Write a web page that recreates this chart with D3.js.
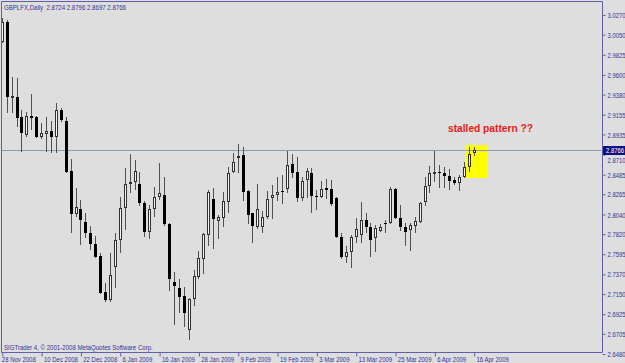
<!DOCTYPE html>
<html><head><meta charset="utf-8">
<script src="https://cdn.jsdelivr.net/npm/d3@7"></script>
<style>body{margin:0;background:#dedede}svg{display:block}</style>
</head><body><svg id="c" width="625" height="363"></svg>
<script>
const dates = ["2008-11-28","2008-12-01","2008-12-02","2008-12-03","2008-12-04","2008-12-05","2008-12-08","2008-12-09","2008-12-10","2008-12-11","2008-12-12","2008-12-15","2008-12-16","2008-12-17","2008-12-18","2008-12-19","2008-12-22","2008-12-23","2008-12-24","2008-12-29","2008-12-30","2008-12-31","2009-01-02","2009-01-05","2009-01-06","2009-01-07","2009-01-08","2009-01-09","2009-01-12","2009-01-13","2009-01-14","2009-01-15","2009-01-16","2009-01-19","2009-01-20","2009-01-21","2009-01-22","2009-01-23","2009-01-26","2009-01-27","2009-01-28","2009-01-29","2009-01-30","2009-02-02","2009-02-03","2009-02-04","2009-02-05","2009-02-06","2009-02-09","2009-02-10","2009-02-11","2009-02-12","2009-02-13","2009-02-16","2009-02-17","2009-02-18","2009-02-19","2009-02-20","2009-02-23","2009-02-24","2009-02-25","2009-02-26","2009-02-27","2009-03-02","2009-03-03","2009-03-04","2009-03-05","2009-03-06","2009-03-09","2009-03-10","2009-03-11","2009-03-12","2009-03-13","2009-03-16","2009-03-17","2009-03-18","2009-03-19","2009-03-20","2009-03-23","2009-03-24","2009-03-25","2009-03-26","2009-03-27","2009-03-30","2009-03-31","2009-04-01","2009-04-02","2009-04-03","2009-04-06","2009-04-07","2009-04-08","2009-04-09","2009-04-10","2009-04-13","2009-04-14","2009-04-15","2009-04-16"];
const open  = [2.9972,3.0195,2.9342,2.9357,2.9133,2.8929,2.9141,2.9127,2.8903,2.8940,2.8977,2.8903,2.9208,2.9089,2.8530,2.8046,2.8101,2.7959,2.7830,2.7710,2.7576,2.7170,2.7084,2.7450,2.7755,2.8109,2.8381,2.8403,2.8381,2.8172,2.7848,2.8098,2.8232,2.8255,2.7934,2.7282,2.7215,2.7132,2.6749,2.7092,2.7345,2.7539,2.7811,2.8213,2.7971,2.8000,2.8180,2.8512,2.8668,2.8705,2.8303,2.8053,2.7897,2.7897,2.8015,2.8221,2.8255,2.8303,2.8322,2.8601,2.8518,2.8221,2.8426,2.8501,2.8247,2.8239,2.8333,2.8322,2.8221,2.7792,2.7561,2.7624,2.7792,2.7811,2.7978,2.7904,2.7774,2.7859,2.7948,2.7941,2.8322,2.8000,2.7897,2.7867,2.7911,2.7959,2.8183,2.8359,2.8515,2.8518,2.8507,2.8470,2.8426,2.8395,2.8463,2.8568,2.8724];
const high  = [3.0233,3.0214,2.9581,2.9566,2.9208,2.9189,2.9384,2.9141,2.9066,2.9133,2.9085,2.9283,2.9227,2.9133,2.8657,2.8333,2.8202,2.8060,2.7911,2.7800,2.7613,2.7277,2.7613,2.7830,2.8232,2.8556,2.8716,2.8649,2.8518,2.8190,2.8146,2.8351,2.8619,2.8463,2.7945,2.7400,2.7315,2.7233,2.7103,2.7419,2.7632,2.7830,2.8314,2.8333,2.8034,2.8295,2.8574,2.8731,2.8828,2.8798,2.8314,2.8060,2.8381,2.8082,2.8306,2.8370,2.8463,2.8482,2.8753,2.8716,2.8686,2.8456,2.8556,2.8556,2.8314,2.8414,2.8433,2.8426,2.8240,2.7830,2.7688,2.7811,2.7997,2.8183,2.8053,2.7948,2.7923,2.7934,2.7975,2.8351,2.8333,2.8146,2.7941,2.7948,2.8009,2.8183,2.8463,2.8582,2.8755,2.8593,2.8568,2.8545,2.8463,2.8482,2.8630,2.8798,2.8796];
const low   = [2.9957,2.9175,2.9175,2.9022,2.8742,2.8903,2.8985,2.8892,2.8881,2.8742,2.8724,2.8724,2.9077,2.8501,2.7830,2.8015,2.7699,2.7774,2.7643,2.7550,2.7151,2.7065,2.7065,2.7215,2.7606,2.7867,2.8284,2.8314,2.8135,2.7792,2.7763,2.8015,2.8202,2.7911,2.7188,2.6805,2.6935,2.6786,2.6637,2.7017,2.7315,2.7375,2.7688,2.7654,2.7763,2.7897,2.8053,2.8501,2.8501,2.8194,2.7934,2.7718,2.7874,2.7830,2.7986,2.7986,2.8194,2.8157,2.8284,2.8445,2.8183,2.8191,2.8221,2.8060,2.8090,2.8221,2.8210,2.8135,2.7775,2.7539,2.7494,2.7438,2.7725,2.7718,2.7830,2.7568,2.7624,2.7848,2.7837,2.7934,2.7990,2.7859,2.7688,2.7635,2.7830,2.7948,2.8135,2.8284,2.8403,2.8333,2.8333,2.8314,2.8370,2.8303,2.8445,2.8518,2.8697];
const close = [3.0195,2.9357,2.9365,2.9115,2.8948,2.9141,2.9115,2.8910,2.8948,2.8977,2.8903,2.9208,2.9096,2.8518,2.8046,2.8120,2.7978,2.7830,2.7710,2.7568,2.7166,2.7084,2.7364,2.7755,2.8109,2.8378,2.8407,2.8530,2.8172,2.7848,2.8098,2.8239,2.8284,2.7934,2.7315,2.7244,2.7121,2.6942,2.7092,2.7352,2.7550,2.7822,2.8295,2.7986,2.8009,2.8191,2.8501,2.8624,2.8694,2.8295,2.8034,2.7911,2.8098,2.8009,2.8216,2.8255,2.8291,2.8288,2.8590,2.8507,2.8221,2.8414,2.8526,2.8247,2.8232,2.8322,2.8314,2.8157,2.7785,2.7561,2.7624,2.7792,2.7874,2.7978,2.7904,2.7755,2.7886,2.7904,2.7930,2.8322,2.8000,2.7897,2.7841,2.7923,2.7971,2.8165,2.8359,2.8507,2.8520,2.8501,2.8474,2.8418,2.8389,2.8463,2.8568,2.8713,2.8766];
const priceTicks = [3.0270,3.0050,2.9825,2.9600,2.9380,2.9155,2.8935,2.8710,2.8485,2.8265,2.8040,2.7820,2.7595,2.7370,2.7150,2.6925,2.6705,2.6480];
const dateTicks = ["2008-11-28","2008-12-10","2008-12-22","2009-01-06","2009-01-16","2009-01-28","2009-02-09","2009-02-19","2009-03-03","2009-03-13","2009-03-25","2009-04-06","2009-04-16"];
const dateTickLabels = ["28 Nov 2008","10 Dec 2008","22 Dec 2008","6 Jan 2009","16 Jan 2009","28 Jan 2009","9 Feb 2009","19 Feb 2009","3 Mar 2009","13 Mar 2009","25 Mar 2009","6 Apr 2009","16 Apr 2009"];
const currentPrice = 2.8766;
const titleText = "GBPLFX,Daily  2.8724 2.8796 2.8697 2.8766";
const footerText = "SIGTrader 4, \u00a9 2001-2008 MetaQuotes Software Corp.";
const noteText = "stalled pattern ??";
const highlightRange = ["2009-04-15","2009-04-16"];
const highlightPrices = [2.8815, 2.8450];

const svg = d3.select("#c");
const TXT = "#33339a", FRAME = "#5f5fae";
const L = 1.5, R = 602, T = 1, B = 352;
svg.append("rect").attr("width",625).attr("height",363).attr("fill","#dedede");

const idx = d3.scaleOrdinal().domain(dates).range(dates.map((d,i)=>i));
const xi = d3.scaleLinear().domain([0, dates.length-1]).range([1.8, 473.7]);
const x = d => xi(idx(d));
const y = d3.scaleLinear().domain([2.6480, 3.0270]).range([354, 15]);

svg.append("defs").append("clipPath").attr("id","clip").append("rect")
  .attr("x",L+0.5).attr("y",T+0.5).attr("width",R-L-1).attr("height",B-T-1);
const plot = svg.append("g").attr("clip-path","url(#clip)");

// highlight box
const hx0 = x(highlightRange[0]) - 4, hx1 = x(highlightRange[1]) + 14;
plot.append("rect").attr("x",Math.round(hx0)).attr("y",Math.round(y(highlightPrices[0])))
  .attr("width",Math.round(hx1-hx0)).attr("height",Math.round(y(highlightPrices[1])-y(highlightPrices[0])))
  .attr("fill","#ffff00");

// current price line
plot.append("line").attr("x1",L).attr("x2",R).attr("y1",Math.round(y(currentPrice))+0.5).attr("y2",Math.round(y(currentPrice))+0.5)
  .attr("stroke","#8a9cae").attr("stroke-width",1);

// candles
const bars = dates.map((d,i)=>({d,o:open[i],h:high[i],l:low[i],c:close[i]}));
const g = plot.append("g");
bars.forEach(b=>{
  const cx = Math.round(x(b.d));
  g.append("line").attr("x1",cx+0.5).attr("x2",cx+0.5)
    .attr("y1",Math.round(y(b.h))).attr("y2",Math.round(y(b.l)))
    .attr("stroke","#505050").attr("stroke-width",1);
  const top = Math.round(y(Math.max(b.o,b.c))), bot = Math.round(y(Math.min(b.o,b.c)));
  const hgt = Math.max(1, bot-top);
  if (b.c >= b.o) {
    if (hgt <= 2) {
      g.append("rect").attr("x",cx-1).attr("y",top).attr("width",3).attr("height",Math.max(2,hgt)).attr("fill","#303030");
    } else {
      g.append("rect").attr("x",cx-0.5).attr("y",top+0.5).attr("width",2).attr("height",hgt-1)
        .attr("fill","#f6f6ee").attr("stroke","#303030").attr("stroke-width",1);
    }
  } else {
    g.append("rect").attr("x",cx-1).attr("y",top).attr("width",3).attr("height",hgt).attr("fill","#000");
  }
});

// frame
svg.append("path").attr("d",`M${L},${B+0.5}V${T+0.5}H${R+0.5}V${B+0.5}H${L}`)
  .attr("fill","none").attr("stroke",FRAME).attr("stroke-width",1);

// y axis
const yAxis = d3.axisRight(y).tickValues(priceTicks).tickFormat(d3.format(".4f")).tickSize(3).tickPadding(2);
const ya = svg.append("g").attr("transform",`translate(${R+0.5},0)`).call(yAxis);
ya.select(".domain").remove();
ya.selectAll(".tick line").attr("stroke",FRAME);
const cy = Math.round(y(currentPrice));
ya.selectAll(".tick text").attr("fill",TXT).attr("font-family","Liberation Sans, Arial, sans-serif")
  .attr("font-size",7.2).attr("x",null).attr("dy",null)
  .attr("transform",d => {
    const yy = y(d);
    const shift = (Math.abs(yy - cy) < 9) ? (cy + 12 - yy) : 2.6;
    return `translate(5,${shift}) scale(0.82,1)`;
  });

// current price box
svg.append("rect").attr("x",R+1).attr("y",cy-4).attr("width",22).attr("height",9).attr("fill","#10107e");
svg.append("text").attr("transform",`translate(${R+4},${cy+3}) scale(0.82,1)`).attr("fill","#fff")
  .attr("font-family","Liberation Sans, Arial, sans-serif").attr("font-size",7.2).text(d3.format(".4f")(currentPrice));

// x axis
const xAxis = d3.axisBottom(xi).tickValues(dateTicks.map(d=>idx(d))).tickFormat((d,i)=>dateTickLabels[i]).tickSize(4).tickPadding(0);
const xa = svg.append("g").attr("transform",`translate(0.5,${B+0.5})`).call(xAxis);
xa.select(".domain").remove();
xa.selectAll(".tick line").attr("stroke",FRAME);
xa.selectAll(".tick text").attr("fill",TXT).attr("font-family","Liberation Sans, Arial, sans-serif")
  .attr("font-size",7.5).attr("text-anchor","start").attr("y",null).attr("dy",null)
  .attr("transform",(d,i)=> i===0 ? "translate(-1,9) scale(0.8,1)" : "translate(1.8,9) scale(0.8,1)");

// texts
svg.append("text").attr("transform","translate(4,9.5) scale(0.8,1)").attr("fill",TXT)
  .attr("font-family","Liberation Sans, Arial, sans-serif").attr("font-size",7.6).attr("xml:space","preserve")
  .style("white-space","pre").text(titleText);
svg.append("text").attr("transform","translate(4,349.5) scale(0.8,1)").attr("fill",TXT)
  .attr("font-family","Liberation Sans, Arial, sans-serif").attr("font-size",7.6).text(footerText);
svg.append("text").attr("x",448).attr("y",132).attr("fill","#f01818").attr("font-weight","bold")
  .attr("font-family","Liberation Sans, Arial, sans-serif").attr("font-size",10.2).text(noteText);
</script></body></html>
